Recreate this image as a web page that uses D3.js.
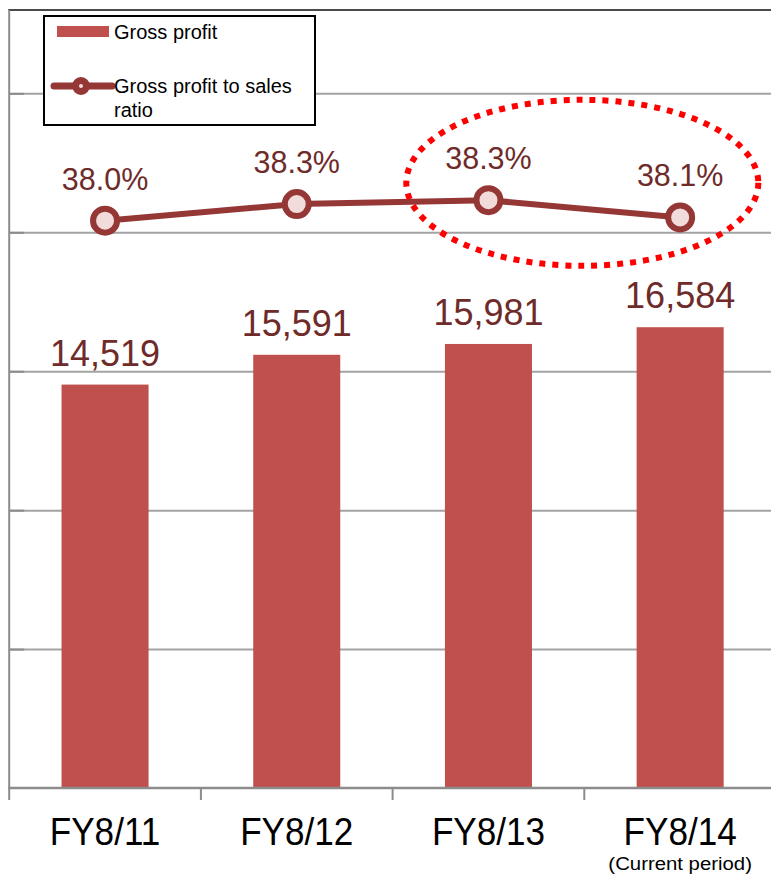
<!DOCTYPE html>
<html>
<head>
<meta charset="utf-8">
<script src="https://cdn.jsdelivr.net/npm/d3@7"></script>
<style>
  html, body { margin: 0; padding: 0; background: #fff; }
  svg { display: block; font-family: Arial, "Liberation Sans", sans-serif; }
</style>
</head>
<body>
<svg id="chart" width="771" height="874"></svg>
<script>
// Fiscal years and their values
const categories = ["FY8/11", "FY8/12", "FY8/13", "FY8/14"];
const grossProfit = [14519, 15591, 15981, 16584];
const grossMargin = [38.02, 38.28, 38.34, 38.07];
const gridValues = [5000, 10000, 15000, 20000, 25000];
const seriesNames = ["Gross profit", "Gross profit to sales", "ratio"];
const subLabel = "(Current period)";

const W = 771, H = 874;
const plot = { left: 9.2, right: 776, top: 10, bottom: 788 };

const svg = d3.select("#chart");

const x = d3.scaleBand()
  .domain(categories)
  .range([plot.left, plot.right])
  .paddingInner(0.546)
  .paddingOuter(0.273);

const y = d3.scaleLinear().domain([0, 28000]).range([plot.bottom, plot.top]);
const y2 = d3.scaleLinear().domain([29.16, 41.31]).range([plot.bottom, plot.top]);

const barColor = "#C0504D";
const lineColor = "#953735";
const markerFill = "#F2DCDB";
const labelColor = "#6E2B2A";

// Horizontal gridlines
const grid = svg.append("g")
  .attr("transform", `translate(${plot.left},0)`)
  .call(d3.axisLeft(y).tickValues(gridValues).tickSize(-(plot.right - plot.left)).tickFormat(""));
grid.select(".domain").remove();
grid.selectAll(".tick line").attr("stroke", "#A3A3A3").attr("stroke-width", 2);

// Short inner tick marks on the value axis
const inner = svg.append("g")
  .attr("transform", `translate(${plot.left},0)`)
  .call(d3.axisLeft(y).tickValues(gridValues).tickSize(-15).tickFormat(""));
inner.select(".domain").remove();
inner.selectAll(".tick line").attr("stroke", "#8C8C8C").attr("stroke-width", 2);

// Top border of the plot area
svg.append("line")
  .attr("x1", plot.left - 1).attr("x2", W)
  .attr("y1", plot.top).attr("y2", plot.top)
  .attr("stroke", "#4A4A4A").attr("stroke-width", 2);

// Value axis line
svg.append("line")
  .attr("x1", plot.left).attr("x2", plot.left)
  .attr("y1", plot.top).attr("y2", plot.bottom)
  .attr("stroke", "#8C8C8C").attr("stroke-width", 2);

// Bars
svg.append("g").selectAll("rect")
  .data(categories)
  .join("rect")
  .attr("x", d => x(d))
  .attr("width", x.bandwidth())
  .attr("y", (d, i) => y(grossProfit[i]))
  .attr("height", (d, i) => y(0) - y(grossProfit[i]))
  .attr("fill", barColor);

// Category axis with boundary ticks
const step = x.step();
const boundaries = d3.range(categories.length + 1).map(i => plot.left + i * step);
svg.append("line")
  .attr("x1", plot.left - 1).attr("x2", W)
  .attr("y1", plot.bottom).attr("y2", plot.bottom)
  .attr("stroke", "#8C8C8C").attr("stroke-width", 2.5);
svg.append("g").selectAll("line")
  .data(boundaries)
  .join("line")
  .attr("x1", d => d).attr("x2", d => d)
  .attr("y1", plot.bottom).attr("y2", plot.bottom + 12)
  .attr("stroke", "#8C8C8C").attr("stroke-width", 2);

const xAxis = svg.append("g")
  .attr("transform", `translate(0,${plot.bottom})`)
  .call(d3.axisBottom(x).tickSize(0).tickPadding(0));
xAxis.select(".domain").remove();
xAxis.selectAll(".tick text")
  .attr("y", 0)
  .attr("dy", 0)
  .attr("font-size", 39)
  .attr("fill", "#000")
  .attr("transform", "translate(0,57) scale(0.9,1)");
xAxis.select(".tick:last-of-type").append("text")
  .text(subLabel)
  .attr("font-size", 18.5)
  .attr("fill", "#000")
  .attr("text-anchor", "middle")
  .attr("transform", "translate(0,82) scale(1.1,1)");

// Bar value labels
const fmtInt = d3.format(",");
svg.append("g").selectAll("text")
  .data(categories)
  .join("text")
  .attr("x", d => x(d) + x.bandwidth() / 2)
  .attr("y", (d, i) => y(grossProfit[i]) - 19)
  .attr("text-anchor", "middle")
  .attr("font-size", 36)
  .attr("fill", labelColor)
  .text((d, i) => fmtInt(grossProfit[i]));

// Ratio line
const cx = d => x(d) + x.bandwidth() / 2;
const line = d3.line().x((d, i) => cx(categories[i])).y(d => y2(d));
svg.append("path")
  .datum(grossMargin)
  .attr("d", line)
  .attr("fill", "none")
  .attr("stroke", lineColor)
  .attr("stroke-width", 6)
  .attr("stroke-linejoin", "round");

svg.append("g").selectAll("circle")
  .data(grossMargin)
  .join("circle")
  .attr("cx", (d, i) => cx(categories[i]))
  .attr("cy", d => y2(d))
  .attr("r", 12)
  .attr("fill", markerFill)
  .attr("stroke", lineColor)
  .attr("stroke-width", 6);

const fmtPct = d => d3.format(".1f")(d) + "%";
svg.append("g").selectAll("text")
  .data(grossMargin)
  .join("text")
  .attr("x", (d, i) => cx(categories[i]))
  .attr("y", d => y2(d) - 31)
  .attr("text-anchor", "middle")
  .attr("font-size", 30.5)
  .attr("fill", labelColor)
  .text(fmtPct);

// Dotted highlight ellipse around the last two years
const ex = (cx(categories[2]) + cx(categories[3])) / 2 - 2;
const ey = (y2(grossMargin[2]) + y2(grossMargin[3])) / 2 - 26;
svg.append("ellipse")
  .attr("cx", ex)
  .attr("cy", ey)
  .attr("rx", 176)
  .attr("ry", 83)
  .attr("fill", "none")
  .attr("stroke", "#FF0000")
  .attr("stroke-width", 6)
  .attr("stroke-dasharray", "6 7");

// Legend
const legend = svg.append("g");
legend.append("rect")
  .attr("x", 44).attr("y", 16)
  .attr("width", 271).attr("height", 109)
  .attr("fill", "#fff")
  .attr("stroke", "#000")
  .attr("stroke-width", 2);
legend.append("rect")
  .attr("x", 57).attr("y", 26)
  .attr("width", 52).attr("height", 11)
  .attr("fill", barColor);
legend.append("text")
  .attr("x", 114).attr("y", 39)
  .attr("font-size", 20)
  .attr("fill", "#000")
  .text(seriesNames[0]);
legend.append("line")
  .attr("x1", 54).attr("x2", 112)
  .attr("y1", 86).attr("y2", 86)
  .attr("stroke", lineColor)
  .attr("stroke-width", 7)
  .attr("stroke-linecap", "round");
legend.append("circle")
  .attr("cx", 81).attr("cy", 86)
  .attr("r", 5.5)
  .attr("fill", markerFill)
  .attr("stroke", lineColor)
  .attr("stroke-width", 7);
legend.append("text")
  .attr("x", 114).attr("y", 93)
  .attr("font-size", 20)
  .attr("fill", "#000")
  .text(seriesNames[1]);
legend.append("text")
  .attr("x", 114).attr("y", 117)
  .attr("font-size", 20)
  .attr("fill", "#000")
  .text(seriesNames[2]);
</script>
</body>
</html>
